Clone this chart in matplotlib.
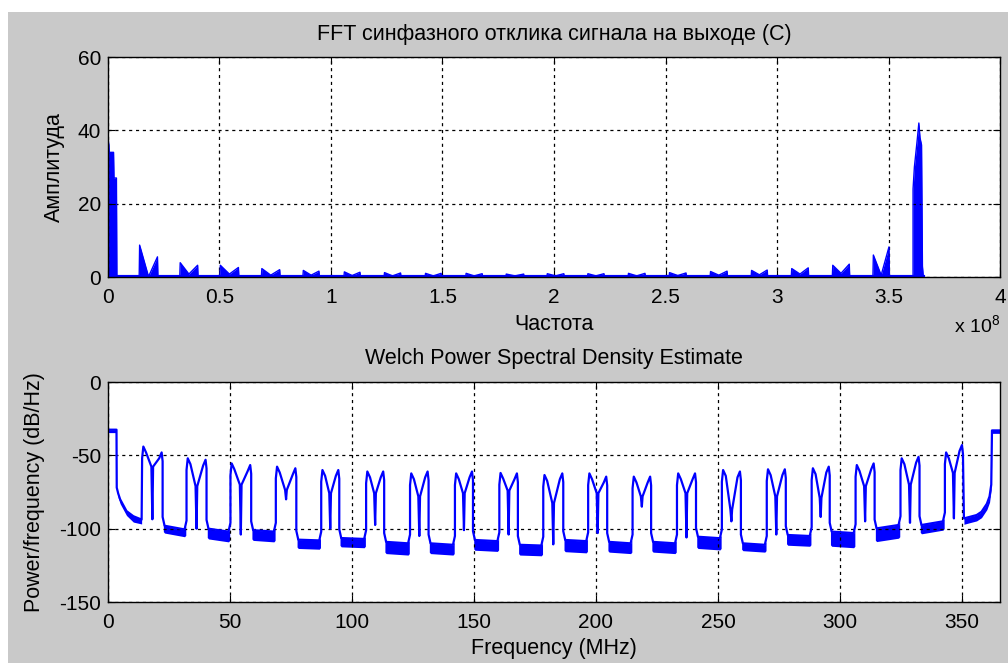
import numpy as np
import matplotlib
matplotlib.use('Agg')
import matplotlib.pyplot as plt
from matplotlib.patches import Rectangle

plt.rcParams['font.family'] = ['Liberation Sans', 'DejaVu Sans']
plt.rcParams['mathtext.fontset'] = 'custom'
plt.rcParams['mathtext.rm'] = 'Liberation Sans'
plt.rcParams['mathtext.it'] = 'Liberation Sans'
plt.rcParams['axes.unicode_minus'] = False

## band edges (MHz) - same bands in both plots
band_lo = [14.0, 32.2, 50.2, 68.8, 87.4, 105.8, 123.8, 142.2, 160.4, 178.4,
           196.8, 215.0, 233.2, 251.6, 270.0, 288.4, 306.4, 324.8, 343.0]
band_hi = [22.4, 40.4, 58.7, 77.2, 94.8, 113.2, 131.4, 149.6, 168.0, 186.6,
           204.6, 222.6, 241.0, 259.4, 277.8, 295.8, 314.2, 332.6, 350.4]

## FFT amplitude (top), frequency in 1e8 Hz
fft_head_f = [0.0, 0.0, 0.004, 0.006, 0.025, 0.027, 0.038, 0.040]
fft_head_a = [0, 38, 36, 34, 34, 27, 27, 0]
fft_left = [8.7, 3.9, 3.2, 2.3, 1.8, 1.4, 1.2, 1.0, 1.0, 0.8,
            0.9, 0.9, 1.0, 1.2, 1.5, 1.8, 2.3, 3.2, 6.0]
fft_dip = [0.1, 0.8, 0.8, 0.5, 0.5, 0.4, 0.3, 0.3, 0.3, 0.3,
           0.3, 0.3, 0.3, 0.4, 0.5, 0.6, 0.8, 1.0, 0.5]
fft_right = [5.5, 3.2, 2.6, 2.0, 1.6, 1.3, 1.1, 1.0, 0.9, 0.8,
             0.9, 0.9, 1.0, 1.1, 1.6, 1.9, 2.5, 3.5, 8.2]
fft_tail_f = [3.610, 3.610, 3.616, 3.628, 3.636, 3.641, 3.648, 3.652, 3.656]
fft_tail_a = [0, 24, 30, 37, 42, 38, 36, 3, 0]

## Welch PSD (bottom), dB/Hz
psd_head_f = [0.0, 3.5, 3.6, 4.2, 5.0, 7.6, 10.4, 13.8]
psd_head_db = [-32.5, -32.5, -72, -76, -80, -88, -91.5, -93.8]
psd_head_th = [2, 2, 2, 3, 3, 3, 4, 3]
psd_peak_l = [-44, -52, -55.5, -57.7, -60, -61, -62.3, -62.3, -62, -63.4,
              -62.3, -64.5, -62.3, -60, -59.5, -58.8, -56.6, -52, -48]
psd_dip = [-57.7, -71, -70, -73.6, -75.8, -75.8, -78, -75.8, -74, -82.5,
           -75.8, -78, -75.8, -87, -78, -79, -71, -70, -62]
psd_spike = [-93.6, -100, -104, -80, -100, -97.5, -105, -101, -104, -110.7,
             -103, -85, -106, -95, -104, -92, -95, -96, -93]
psd_peak_r = [-48, -53, -56.6, -58.8, -60, -61, -61, -61, -62.3, -62.3,
              -64.5, -64.5, -62.3, -61, -59.5, -57.7, -55.5, -51, -43]
floor_a = [-98, -100, -101, -107.5, -106.4, -109, -110, -107.7, -111,
           -107.7, -109, -109, -105.5, -110, -104.3, -102, -99.8, -97.5]
floor_b = [-100.5, -102, -102, -108, -107, -110, -111, -108.5, -111.5,
           -108.5, -110, -110, -106.5, -111, -105, -103, -97.5, -95]
floor_th = [5, 7, 7, 6, 6, 8, 7, 7, 7, 8, 7, 7, 8, 5, 7, 10, 9, 6]
psd_tail_f = [350.8, 353.0, 356.0, 358.0, 360.2, 361.3, 362.0, 362.3, 365.6]
psd_tail_db = [-93, -92, -90.7, -88.5, -83, -78, -70, -33, -33]
psd_tail_th = [4, 4, 4, 4, 4, 4, 3, 2, 2]

gray = '#c9c9c9'
fig = plt.figure(figsize=(10.08, 6.63), dpi=100, facecolor='white')
fig.patches.append(Rectangle((8 / 1008, 0), 1, 1 - 12 / 663, transform=fig.transFigure,
                             facecolor=gray, edgecolor='none', zorder=-10))

ax1 = fig.add_axes([0.1071, 0.5822, 0.885, 0.3318])
ax2 = fig.add_axes([0.1071, 0.092, 0.885, 0.3318])

for ax in (ax1, ax2):
    ax.set_facecolor('white')
    ax.grid(True, color='black', linestyle=(0, (2.5, 3)), linewidth=0.9)
    ax.tick_params(direction='in', length=5, width=0.8, labelsize=15,
                   top=True, right=True, pad=8)
    ax.tick_params(axis='y', pad=5)
    for s in ax.spines.values():
        s.set_linewidth(1.0)

## top: FFT
f = list(fft_head_f)
a = list(fft_head_a)
for k in range(len(band_lo)):
    lo = band_lo[k] / 100
    hi = band_hi[k] / 100
    c = (lo + hi) / 2
    f += [lo, lo + 0.002, c, hi - 0.002, hi]
    a += [0, fft_left[k], fft_dip[k], fft_right[k], 0]
f += fft_tail_f
a += fft_tail_a
ax1.fill_between(f, a, 0, color='blue', linewidth=0)
ax1.plot(f, a, color='blue', linewidth=1.0)
ax1.plot([0, fft_tail_f[-1]], [0, 0], color='blue', linewidth=3)
ax1.set_xlim(0, 4)
ax1.set_ylim(0, 60)
ax1.set_xticks(np.arange(0, 4.01, 0.5))
ax1.set_xticklabels(['0', '0.5', '1', '1.5', '2', '2.5', '3', '3.5', '4'])
ax1.set_yticks([0, 20, 40, 60])
ax1.set_title('FFT синфазного отклика сигнала на выходе (C)', fontsize=15.5, pad=12)
ax1.set_xlabel('Частота', fontsize=15.5, labelpad=5)
ax1.set_ylabel('Амплитуда', fontsize=15.5, labelpad=9)
fig.text(1000 / 1008, 1 - 332 / 663, 'x 10$^{8}$', ha='right', va='baseline', fontsize=14)

## bottom: Welch PSD
xs = list(psd_head_f)
ys = list(psd_head_db)
ax2.fill_between(psd_head_f, psd_head_db,
                 [d - t for d, t in zip(psd_head_db, psd_head_th)],
                 color='blue', linewidth=0)
for k in range(len(band_lo)):
    lo = band_lo[k]
    hi = band_hi[k]
    c = (lo + hi) / 2
    pl = psd_peak_l[k]
    pr = psd_peak_r[k]
    dp = psd_dip[k]
    xs += [lo, lo + 0.5, lo + 1.6, c - 0.4, c, c + 0.3, hi - 1.4, hi - 0.4, hi]
    ys += [pl - 8, pl, pl - 4, dp, psd_spike[k], dp, pr - 4, pr, pr - 6]
    if k < len(floor_a):
        nxt = band_lo[k + 1]
        fx = [hi, hi + 0.8, nxt - 0.8, nxt]
        fy = [floor_a[k] + 6, floor_a[k], floor_b[k], floor_b[k] + 6]
        xs += fx
        ys += fy
        th = floor_th[k]
        ax2.fill_between([hi + 0.3, hi + 0.8, nxt - 0.8, nxt - 0.3],
                         [floor_a[k] + 2, floor_a[k], floor_b[k], floor_b[k] + 2],
                         [floor_a[k] - th + 1, floor_a[k] - th, floor_b[k] - th, floor_b[k] - th + 1],
                         color='blue', linewidth=0)
xs += psd_tail_f
ys += psd_tail_db
ax2.fill_between(psd_tail_f, psd_tail_db,
                 [d - t for d, t in zip(psd_tail_db, psd_tail_th)],
                 color='blue', linewidth=0)
ax2.plot(xs, ys, color='blue', linewidth=1.6)
ax2.set_xlim(0, 365.6)
ax2.set_ylim(-150, 0)
ax2.set_xticks([0, 50, 100, 150, 200, 250, 300, 350])
ax2.set_yticks([-150, -100, -50, 0])
ax2.set_title('Welch Power Spectral Density Estimate', fontsize=15.5, pad=13)
ax2.set_xlabel('Frequency (MHz)', fontsize=15.5, labelpad=4)
ax2.set_ylabel('Power/frequency (dB/Hz)', fontsize=15.5, labelpad=10)

fig.savefig('out.png', dpi=100, facecolor=fig.get_facecolor())
